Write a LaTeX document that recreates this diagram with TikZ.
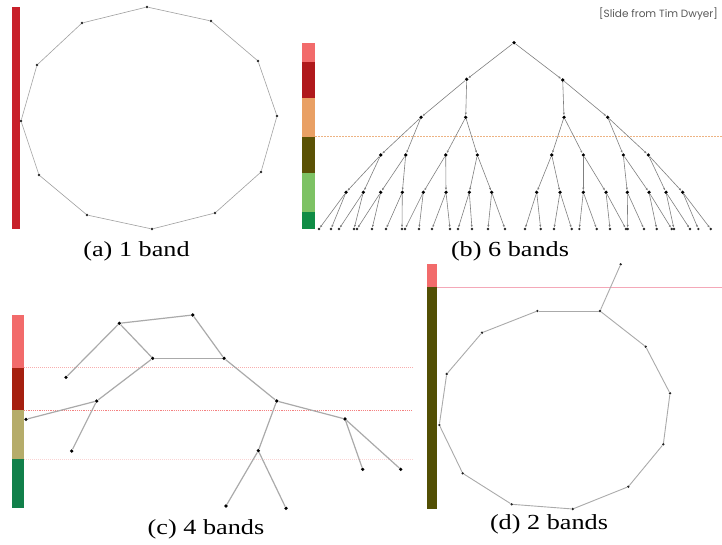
\documentclass[tikz,border=0pt]{standalone}
\usepackage{fontspec}
\usepackage{graphicx}
\setmainfont{Liberation Serif}
\newfontfamily\slidefont{Poppins}
\usetikzlibrary{arrows.meta}
\definecolor{barred}{HTML}{C8202A}
\definecolor{bpink}{HTML}{F26B6B}
\definecolor{bdred}{HTML}{B0191C}
\definecolor{borange}{HTML}{E9A064}
\definecolor{bolive}{HTML}{5B5205}
\definecolor{blgreen}{HTML}{7DC264}
\definecolor{bgreen}{HTML}{0F8C45}
\definecolor{cdred}{HTML}{A5200F}
\definecolor{ckhaki}{HTML}{B5AC6A}
\definecolor{cgreen}{HTML}{11804A}
\definecolor{dolive}{HTML}{524F04}
\definecolor{edgegray}{HTML}{A0A0A0}
\definecolor{treegray}{HTML}{808080}
\definecolor{dline}{HTML}{F4A8B8}
\tikzset{
  vtx/.style={circle, fill=black, inner sep=0pt, minimum size=3.6pt},
  smallvtx/.style={circle, fill=black!85, inner sep=0pt, minimum size=2.6pt},
  thinedge/.style={draw=edgegray, line width=0.6pt},
  treeedge/.style={draw=treegray, line width=0.6pt, -{Latex[length=2.6pt,width=2.2pt]}},
  thickedge/.style={draw=edgegray!90, line width=1.2pt},
  captext/.style={font=\fontsize{21.5}{21.5}\selectfont, anchor=base, inner sep=0pt},
  bandline/.style={line width=0.5pt},
}
\newcommand{\capt}[1]{\scalebox{1.22}[1]{#1}}
\begin{document}
\begin{tikzpicture}[x=1pt,y=-1pt]
\useasboundingbox[fill=white] (0,0) rectangle (722,545);

% ---------- panel (a) ----------
\fill[barred] (12,7) rectangle (20,229);
\foreach \i/\x/\y in {1/147/7,2/211/21,3/258/61,4/277/116,5/261/172,6/215/213,7/152/229,8/87/215,9/39/175,10/21/121,11/37/65,12/82/23}
  \node[smallvtx] (a\i) at (\x,\y) {};
\foreach \i [evaluate=\i as \j using {int(mod(\i,12)+1)}] in {1,...,12}
  \draw[thinedge] (a\i) -- (a\j);
\node[captext] (capa) at (136.5,256) {\capt{(a) 1 band}};

% ---------- panel (b) ----------
\fill[bpink]   (302,42.7)  rectangle (315,61.7);
\fill[bdred]   (302,61.7)  rectangle (315,98.3);
\fill[borange] (302,98.3)  rectangle (315,136.7);
\fill[bolive]  (302,136.7) rectangle (315,173.3);
\fill[blgreen] (302,173.3) rectangle (315,211.7);
\fill[bgreen]  (302,211.7) rectangle (315,229);
\coordinate (bl1) at (315,136.7);
\coordinate (bl2) at (722,136.7);
\draw[bandline, draw=borange!80, dash pattern=on 1.6pt off 1.4pt] (bl1) -- (bl2);

\node[vtx] (t0-1) at (514,42.7) {};
\foreach \i/\x/\y in {1/466.7/79.3,2/562.7/80}
  \node[vtx] (t1-\i) at (\x,\y) {};
\foreach \i/\x in {1/421,2/465.7,3/564,4/607.7}
  \node[vtx] (t2-\i) at (\x,117.3) {};
\foreach \i/\x in {1/380.7,2/405.7,3/445.7,4/477.3,5/551.7,6/583.3,7/623.3,8/648.3}
  \node[vtx] (t3-\i) at (\x,155) {};
\foreach \i/\x in {1/346,2/363.3,3/380.7,4/402.3,5/423.3,6/446,7/469.3,8/491.7,9/536.7,10/560,11/583.3,12/606,13/627.3,14/649,15/666,16/682.7}
  \node[vtx] (t4-\i) at (\x,192.3) {};
\foreach \i/\x in {1/319,2/331,3/339,4/354,5/357,6/372,7/386,8/402,9/405,10/419,11/432,12/450,13/458,14/472,15/488,16/505,17/525,18/540.7,19/554,20/571.7,21/579.3,22/596.7,23/610,24/626,25/627.7,26/644,27/656.7,28/671.7,29/674,30/690,31/698.3,32/710.7}
  \node[smallvtx] (t5-\i) at (\x,229) {};
\foreach \i in {1,2} \draw[treeedge] (t0-1) -- (t1-\i);
\foreach \i [evaluate=\i as \p using {int((\i+1)/2)}] in {1,...,4} \draw[treeedge] (t1-\p) -- (t2-\i);
\foreach \i [evaluate=\i as \p using {int((\i+1)/2)}] in {1,...,8} \draw[treeedge] (t2-\p) -- (t3-\i);
\foreach \i [evaluate=\i as \p using {int((\i+1)/2)}] in {1,...,16} \draw[treeedge] (t3-\p) -- (t4-\i);
\foreach \i [evaluate=\i as \p using {int((\i+1)/2)}] in {1,...,32} \draw[treeedge] (t4-\p) -- (t5-\i);
\node[captext] (capb) at (510,256) {\capt{(b) 6 bands}};

% ---------- panel (c) ----------
\fill[bpink]  (12,315)   rectangle (24,367.7);
\fill[cdred]  (12,367.7) rectangle (24,410);
\fill[ckhaki] (12,410)   rectangle (24,459.3);
\fill[cgreen] (12,459.3) rectangle (24,508.3);
\coordinate (cl1a) at (24,367.7); \coordinate (cl1b) at (413,367.7);
\coordinate (cl2a) at (24,410);   \coordinate (cl2b) at (413,410);
\coordinate (cl3a) at (24,459.3); \coordinate (cl3b) at (413,459.3);
\draw[bandline, draw=bpink!55, dash pattern=on 1pt off 1pt] (cl1a) -- (cl1b);
\draw[bandline, draw=bpink!85, dash pattern=on 1.2pt off 1pt] (cl2a) -- (cl2b);
\draw[bandline, draw=bpink!30, dash pattern=on 1pt off 1pt] (cl3a) -- (cl3b);
\foreach \n/\x/\y in {A/119.3/323.3,B/192.7/315,C/152.7/358.3,D/66/377.3,E/96.7/401,F/26/419.3,G/71.7/451,H/224/358.3,I/276.7/401,J/345/419,K/362.7/469.3,L/400.7/469.3,M/258.3/450.7,N/226/506,O/286/508.3}
  \node[vtx] (c\n) at (\x,\y) {};
\foreach \p/\q in {A/B,A/D,A/C,C/H,B/H,C/E,E/F,E/G,H/I,I/J,I/M,J/K,J/L,M/N,M/O}
  \draw[thickedge] (c\p) -- (c\q);
\node[captext] (capc) at (206,534) {\capt{(c) 4 bands}};

% ---------- panel (d) ----------
\fill[bpink]  (427.3,264.3) rectangle (436.7,287.3);
\fill[dolive] (427.3,287.3) rectangle (436.7,509);
\coordinate (dl1) at (437,287.3); \coordinate (dl2) at (722,287.3);
\draw[bandline, draw=dline, line width=0.6pt] (dl1) -- (dl2);
\node[smallvtx] (dtop) at (620.7,264.3) {};
\foreach \i/\x/\y in {1/600/311,2/537.3/311,3/482/332.7,4/446.7/374,5/439.3/425,6/462.7/473.3,7/511.7/504.3,8/572.7/509,9/628.3/486.7,10/663.3/444.3,11/670/393.3,12/645.7/346.7}
  \node[smallvtx] (d\i) at (\x,\y) {};
\foreach \i [evaluate=\i as \j using {int(mod(\i,12)+1)}] in {1,...,12}
  \draw[thickedge, line width=0.9pt] (d\i) -- (d\j);
\draw[thickedge, line width=0.9pt] (dtop) -- (d1);
\node[captext] (capd) at (549,529) {\capt{(d) 2 bands}};

% ---------- credit ----------
\node[anchor=east, inner sep=0pt, text=black!65, font=\slidefont\fontsize{10.5}{10.5}\selectfont] (credit) at (718,14) {[Slide from Tim Dwyer]};
\end{tikzpicture}
\end{document}
